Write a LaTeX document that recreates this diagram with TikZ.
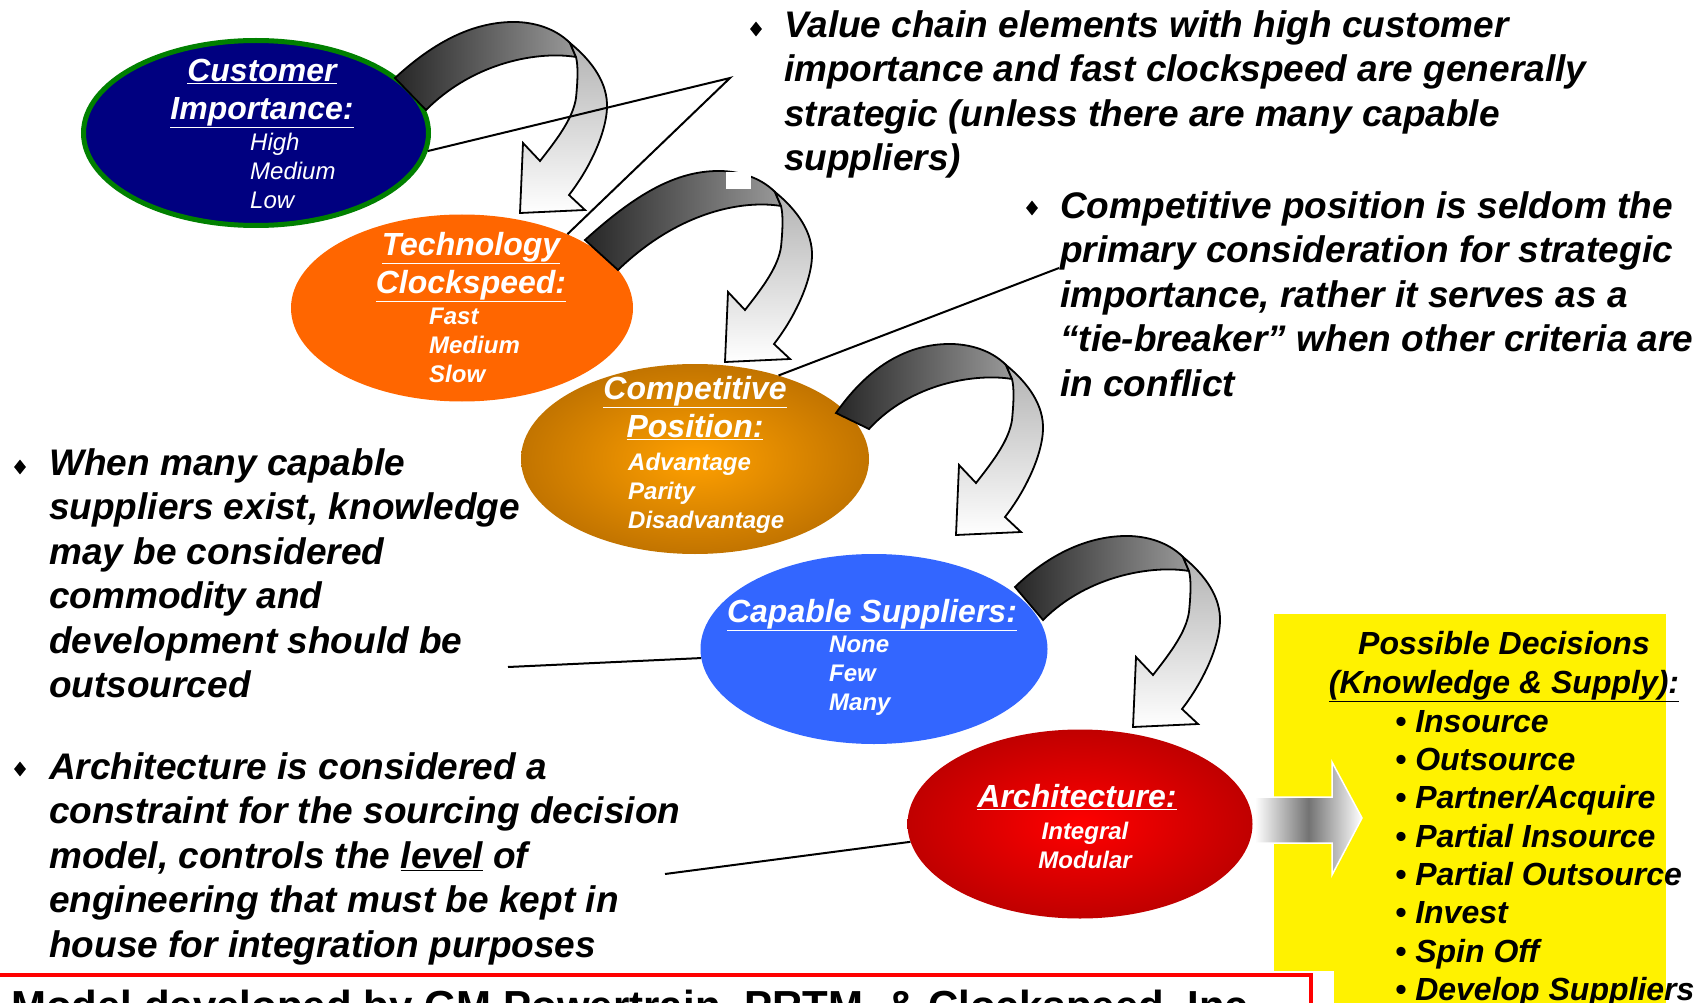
\documentclass[tikz,border=0pt]{standalone}
\usepackage{fontspec}
\setmainfont{Liberation Sans}
\usetikzlibrary{shapes.geometric,positioning}

\definecolor{navyblob}{HTML}{000080}
\definecolor{greenrim}{HTML}{008000}
\definecolor{orangeblob}{HTML}{FF6600}
\definecolor{goldin}{HTML}{FFA000}
\definecolor{goldout}{HTML}{C27400}
\definecolor{blueblob}{HTML}{3366FF}
\definecolor{redin}{HTML}{FF0000}
\definecolor{redout}{HTML}{C00000}

\tikzset{
 blob/.style={ellipse, inner sep=0pt},
 headtxt/.style={text=white, font=\fontsize{32}{38}\selectfont\bfseries\itshape, align=center, inner sep=0pt, anchor=north},
 itemtxt/.style={text=white, font=\fontsize{24}{29}\selectfont\bfseries\itshape, align=left, inner sep=0pt, anchor=north west},
 note/.style={font=\fontsize{37}{44.5}\selectfont\bfseries\itshape, align=left, inner sep=0pt, anchor=north west},
 dia/.style={diamond, fill=black, inner sep=0pt, minimum width=12pt, minimum height=15pt},
 link/.style={line width=2pt},
 pics/twist/.style 2 args={code={
   % dark back of the ribbon
   \draw[line width=1.8pt, left color=black!85, right color=black!40]
     #1 .. controls (-85,-172) and (-45,-192) .. (-3,-191)
     .. controls (20,-190) and (38,-182) .. (50,-170) -- (56,-156)
     .. controls (20,-162) and (-45,-152) .. #2 -- cycle;
   % light front with the head
   \draw[line width=1.8pt, top color=black!30, bottom color=white]
     (50,-170) .. controls (72,-152) and (88,-130) .. (87,-105)
     .. controls (86,-80) and (70,-45) .. (49,-18) -- (65,-3) -- (0,0)
     -- (3,-70) -- (20,-52) .. controls (38,-75) and (53,-95) .. (56,-115)
     .. controls (58,-135) and (58,-148) .. (56,-156) -- cycle;
 }}
}

\begin{document}
\begin{tikzpicture}[x=1pt,y=-1pt]
 \useasboundingbox (0,0) rectangle (1703,1003);
 \clip (0,0) rectangle (1703,1003);

 % the five criteria
 \node[blob, fill=navyblob, draw=greenrim, line width=5pt, minimum width=345pt, minimum height=185pt] (ci) at (256,133) {};
 \node[blob, fill=orangeblob, minimum width=342pt, minimum height=187pt] (tc) at (462,308) {};
 \node[blob, inner color=goldin, outer color=goldout, minimum width=348pt, minimum height=190pt] (cp) at (695,459) {};
 \node[blob, fill=blueblob, minimum width=347pt, minimum height=190pt] (cs) at (874,649) {};
 \node[blob, inner color=redin, outer color=redout, minimum width=345pt, minimum height=189pt] (ar) at (1080,824) {};

 \node[headtxt] (cit) at (262,59) {\underline{Customer}\\\underline{Importance:}};
 \node[itemtxt, font=\fontsize{24}{29}\selectfont\itshape] (cii) at (250,133) {High\\Medium\\Low};
 \node[headtxt] (tct) at (471,232) {\underline{Technology}\\\underline{Clockspeed:}};
 \node[itemtxt] (tci) at (429,308) {Fast\\Medium\\Slow};
 \node[headtxt] (cpt) at (695,376) {\underline{Competitive}\\\underline{Position:}};
 \node[itemtxt] (cpi) at (628,453) {Advantage\\Parity\\Disadvantage};
 \node[headtxt] (cst) at (872,599) {\underline{Capable Suppliers:}};
 \node[itemtxt] (csi) at (829,636) {None\\Few\\Many};
 \node[headtxt] (art) at (1077,784) {\underline{Architecture:}};
 \node[itemtxt, align=center, anchor=north] (ari) at (1085,822) {Integral\\Modular};

 % twisted arrows between the criteria
 \pic at (520,213) {twist={(-125,-135)}{(-94,-103)}};
 \pic at (725,362) {twist={(-140,-122)}{(-107,-92)}};
 \fill[white] (726,172) rectangle (751,189);
 \pic at (956,535) {twist={(-120,-122)}{(-87,-106)}};
 \pic at (1133,727) {twist={(-118,-140)}{(-90,-107)}};

 % remarks
 \node[dia] (d1) at (756,29) {};
 \node[note] (t1) at (784,10) {Value chain elements with high customer\\importance and fast clockspeed are generally\\strategic (unless there are many capable\\suppliers)};
 \node[dia] (d2) at (1032,208) {};
 \node[note] (t2) at (1060,191) {Competitive position is seldom the\\primary consideration for strategic\\importance, rather it serves as a\\“tie-breaker” when other criteria are\\in conflict};
 \node[dia] (d3) at (20,467) {};
 \node[note] (t3) at (49,448) {When many capable\\suppliers exist, knowledge\\may be considered\\commodity and\\development should be\\outsourced};
 \node[dia] (d4) at (20,769) {};
 \node[note] (t4) at (49,752) {Architecture is considered a\\constraint for the sourcing decision\\model, controls the \underline{level} of\\engineering that must be kept in\\house for integration purposes};

 \coordinate (k1) at (730,78);
 \coordinate (k2) at (1059,268);
 \coordinate (k3) at (508,667);
 \coordinate (k4) at (665,874);
 \draw[link] (ci.-6) -- (k1) -- (tc.35);
 \draw[link] (cp.45) -- (k2);
 \draw[link] (k3) -- (cs.183);
 \draw[link] (k4) -- (ar.186);

 % decisions
 \fill[yellow] (1274,614) rectangle (1666,1003);
 \draw[white, line width=1.5pt, left color=white, right color=white, middle color=black!55]
   (1255,797) -- (1332,797) -- (1332,762) -- (1362,818) -- (1332,875) -- (1332,843) -- (1255,843) -- cycle;
 \node[font=\fontsize{32}{39}\selectfont\bfseries\itshape, align=center, inner sep=0pt, anchor=north] (pd) at (1504,631) {Possible Decisions\\\underline{(Knowledge \& Supply):}};
 \node[font=\fontsize{32}{38.3}\selectfont\bfseries\itshape, align=left, inner sep=0pt, anchor=north west] (dl) at (1395,710) {• Insource\\• Outsource\\• Partner/Acquire\\• Partial Insource\\• Partial Outsource\\• Invest\\• Spin Off\\• Develop Suppliers};

 % footer
 \fill[white] (0,971) rectangle (1334,1003);
 \draw[red, line width=4pt] (0,975) -- (1311,975) -- (1311,1010);
 \node[font=\fontsize{42}{50}\selectfont\bfseries, anchor=base west, inner sep=0pt] (ft) at (11,1020) {Model developed by GM Powertrain, PRTM, \& Clockspeed, Inc};
\end{tikzpicture}
\end{document}
